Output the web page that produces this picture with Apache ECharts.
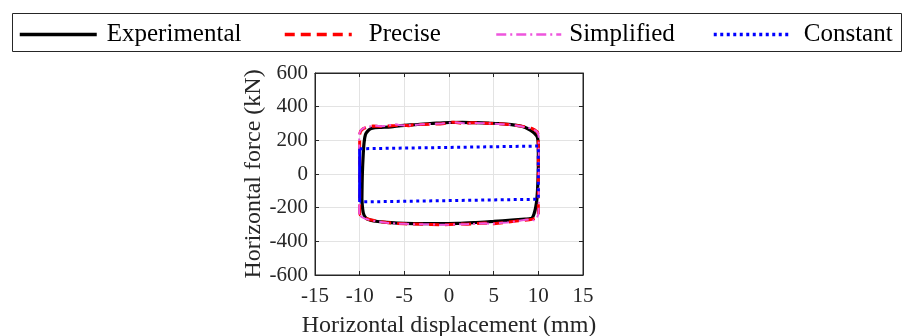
<!DOCTYPE html>
<html>
<head>
<meta charset="utf-8">
<script src="https://cdn.jsdelivr.net/npm/echarts@6/dist/echarts.min.js"></script>
<style>
html,body{margin:0;padding:0;background:#fff;}
#chart{width:903px;height:336px;}
</style>
</head>
<body>
<div id="chart"></div>
<script>
// ---- data ----
const seriesNames = ['Experimental', 'Precise', 'Simplified', 'Constant'];
const xTicks = [-15, -10, -5, 0, 5, 10, 15];
const yTicks = [-600, -400, -200, 0, 200, 400, 600];

const expX = [-9.75, -9.7, -9.6, -9.5, -9.35, -9.1, -8.8, -8.3, -7.6, -6.5, -5.4, -3.5, -2.1, -1, 0, 1.5, 3, 4.5, 5.5, 7, 8, 8.6, 9.1, 9.6, 9.9, 10, 10, 9.95, 9.85, 9.7, 9.5, 9.3, 9.0, 8.5, 7, 5, 3, 1, -1, -3, -5, -6.5, -8, -8.8, -9.3, -9.6, -9.75];
const expY = [-150, 0, 120, 190, 235, 255, 268, 275, 277, 280, 287, 294, 300, 303, 306, 307, 305, 302, 300, 293, 285, 275, 260, 240, 218, 150, 60, -50, -140, -200, -240, -262, -266, -268, -274, -282, -288, -293, -295, -295, -293, -289, -282, -274, -262, -230, -150];

const preX = [-10, -10, -9.9, -9.6, -9.2, -8.5, -8, -7.5, -7, -6, -5.5, -5, -4.5, -4, -3, -2, -1, -0.5, 0, 0.5, 1, 1.5, 2, 2.5, 3, 4, 5, 6, 7, 8, 8.7, 9.2, 9.6, 9.9, 10, 10, 9.8, 9.4, 9, 8.3, 7.5, 6.5, 5.5, 5, 4.5, 4, 3, 2, 1, 0, -1, -2, -3, -4, -5, -6, -7, -8, -8.8, -9.3, -9.7, -10];
const preY = [-240, 235, 255, 270, 278, 285, 283, 282, 285, 288, 292, 290, 287, 292, 294, 296, 297, 300, 306, 308, 304, 300, 301, 305, 304, 302, 300, 297, 293, 285, 278, 272, 262, 250, 230, -240, -258, -268, -272, -275, -280, -287, -292, -296, -293, -291, -295, -298, -297, -300, -302, -300, -298, -297, -296, -293, -288, -280, -272, -264, -255, -240];

const simX = [-10.05, -10.05, -9.85, -9.5, -9, -8.3, -7.5, -6.8, -6.1, -5.6, -5, -4, -3, -2, -0.8, 0, 0.8, 1.6, 2.3, 3, 4, 5, 6, 7, 8, 8.8, 9.3, 9.7, 9.95, 10.05, 10.05, 10, 9.8, 9.5, 9.2, 8.6, 7.6, 6.5, 5.5, 4.8, 4, 3, 2, 1, 0, -1, -2, -3, -4, -5, -6, -7, -8, -8.8, -9.4, -9.8, -10.05];
const simY = [-240, 240, 262, 275, 282, 287, 284, 287, 296, 291, 288, 291, 295, 297, 300, 304, 306, 302, 300, 303, 301, 299, 296, 292, 284, 276, 268, 258, 245, 220, -180, -240, -265, -276, -268, -272, -280, -288, -292, -297, -292, -296, -298, -299, -301, -301, -299, -298, -298, -296, -294, -289, -282, -274, -265, -255, -240];

const conX = [-10, 10, 10, -10];
const conY = [150, 166, -150, -166];
const conVertX = [-10, -10];
const conVertY = [-166, 150];

// ---- helpers ----
const pairs = (xs, ys) => xs.map((x, i) => [x, ys[i]]);
const FONT = 'Liberation Serif';
const AX = '#262626';

const chart = echarts.init(document.getElementById('chart'), null, {renderer: 'canvas'});

function legendAt(name, left, w, textPad, lw) {
  return {
    data: [name], left: left, top: 22, orient: 'horizontal',
    itemWidth: w, itemHeight: 14, padding: 0,
    itemStyle: {opacity: 0},
    lineStyle: {width: lw},
    textStyle: {fontFamily: FONT, fontSize: 25, color: '#000', padding: [0, 0, 0, textPad]},
    selectedMode: false
  };
}

const option = {
  animation: false,
  backgroundColor: '#fff',
  graphic: [{
    type: 'rect', left: 12, top: 13, z: -1,
    shape: {width: 889, height: 38},
    style: {fill: '#fff', stroke: AX, lineWidth: 1}
  }],
  legend: [
    legendAt(seriesNames[0], 18, 77, 5, 3.5),
    legendAt(seriesNames[1], 283, 67, 12, 3.5),
    legendAt(seriesNames[2], 495, 65, 3, 2.5),
    legendAt(seriesNames[3], 712, 78, 7, 3.5)
  ],
  grid: {left: 315, right: 320, top: 73, bottom: 61, show: true, borderColor: AX, borderWidth: 1,
         containLabel: false, outerBoundsMode: 'none'},
  xAxis: [{
    type: 'value', min: xTicks[0], max: xTicks[xTicks.length - 1], interval: 5,
    name: 'Horizontal displacement (mm)', nameLocation: 'middle', nameGap: 39,
    nameTextStyle: {fontFamily: FONT, fontSize: 24, color: AX},
    axisLine: {onZero: false, lineStyle: {color: AX}},
    axisTick: {inside: true, length: 4, lineStyle: {color: AX}},
    axisLabel: {fontFamily: FONT, fontSize: 21, color: AX, margin: 11},
    splitLine: {show: true, lineStyle: {color: '#e3e3e3'}}
  }, {
    type: 'value', position: 'top', min: -15, max: 15, interval: 5,
    axisLine: {show: true, onZero: false, lineStyle: {color: AX}},
    axisTick: {inside: true, length: 4, lineStyle: {color: AX}},
    axisLabel: {show: false}, splitLine: {show: false}
  }],
  yAxis: [{
    type: 'value', min: yTicks[0], max: yTicks[yTicks.length - 1], interval: 200,
    name: 'Horizontal force (kN)', nameLocation: 'middle', nameGap: 45,
    nameTextStyle: {fontFamily: FONT, fontSize: 24, color: AX},
    axisLine: {show: true, onZero: false, lineStyle: {color: AX}},
    axisTick: {show: true, inside: true, length: 4, lineStyle: {color: AX}},
    axisLabel: {fontFamily: FONT, fontSize: 21, color: AX, margin: 7},
    splitLine: {show: true, lineStyle: {color: '#e3e3e3'}}
  }, {
    type: 'value', position: 'right', min: -600, max: 600, interval: 200,
    axisLine: {show: true, onZero: false, lineStyle: {color: AX}},
    axisTick: {show: true, inside: true, length: 4, lineStyle: {color: AX}},
    axisLabel: {show: false}, splitLine: {show: false}
  }],
  series: [
    {name: seriesNames[0], type: 'line', data: pairs(expX, expY), symbol: 'none', smooth: 0.3,
     lineStyle: {color: '#000', width: 3.2, type: 'solid'}, z: 2},
    {name: seriesNames[1], type: 'line', data: pairs(preX, preY), symbol: 'none',
     lineStyle: {color: '#ff0000', width: 3, type: [10, 6]}, z: 3},
    {name: seriesNames[2], type: 'line', data: pairs(simX, simY), symbol: 'none',
     lineStyle: {color: '#ee55dd', width: 2, type: [10, 4, 2, 4]}, z: 4},
    {name: seriesNames[3], type: 'line', data: pairs(conX, conY), symbol: 'none',
     lineStyle: {color: '#0000ff', width: 3, type: [3, 3.5]}, z: 5},
    {name: seriesNames[3], type: 'line', data: pairs(conVertX, conVertY), symbol: 'none',
     lineStyle: {color: '#0000ff', width: 3, type: 'solid'}, z: 5}
  ]
};
chart.setOption(option);
</script>
</body>
</html>
